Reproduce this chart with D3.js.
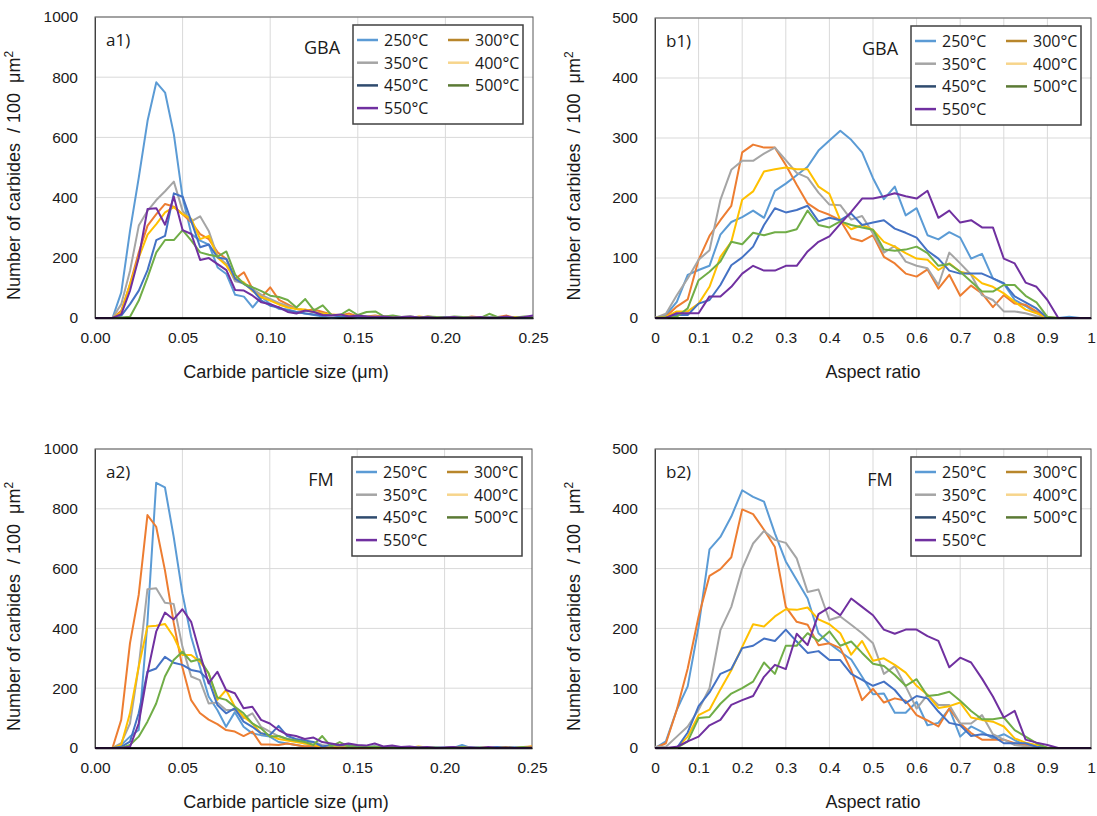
<!DOCTYPE html>
<html>
<head>
<meta charset="utf-8">
<script src="https://cdn.jsdelivr.net/npm/d3@7"></script>
<style>
  body { margin: 0; background: #fff; }
  .tick text { font-family: "Liberation Sans", Arial, sans-serif; font-size: 15.5px; fill: #1a1a1a; }
  .axtitle { font-family: "Liberation Sans", Arial, sans-serif; font-size: 18px; fill: #1a1a1a; white-space: pre; }
  .tag { font-family: "Open Sans", "Noto Sans", sans-serif; font-size: 17px; fill: #1a1a1a; }
  .legtext { font-family: "Open Sans", "Noto Sans", sans-serif; font-size: 16px; fill: #1a1a1a; }
  .gridline { stroke: #d9d9d9; stroke-width: 1; }
  .series { fill: none; stroke-width: 2; stroke-linejoin: round; }
</style>
</head>
<body>
<script>

// ---- categories / ticks
var temps = ["250°C", "300°C", "350°C", "400°C", "450°C", "500°C", "550°C"];

var sizeBins = [0.000,0.005,0.010,0.015,0.020,0.025,0.030,0.035,0.040,0.045,
                0.050,0.055,0.060,0.065,0.070,0.075,0.080,0.085,0.090,0.095,
                0.100,0.105,0.110,0.115,0.120,0.125,0.130,0.135,0.140,0.145,
                0.150,0.155,0.160,0.165,0.170,0.175,0.180,0.185,0.190,0.195,
                0.200,0.205,0.210,0.215,0.220,0.225,0.230,0.235,0.240,0.245,0.250];

var aspectBins = [0.000,0.025,0.050,0.075,0.100,0.125,0.150,0.175,0.200,0.225,
                  0.250,0.275,0.300,0.325,0.350,0.375,0.400,0.425,0.450,0.475,
                  0.500,0.525,0.550,0.575,0.600,0.625,0.650,0.675,0.700,0.725,
                  0.750,0.775,0.800,0.825,0.850,0.875,0.900,0.925,0.950,0.975,1.000];

var sizeTicks   = [0, 0.05, 0.10, 0.15, 0.20, 0.25];
var aspectTicks = [0, 0.1, 0.2, 0.3, 0.4, 0.5, 0.6, 0.7, 0.8, 0.9, 1];
var countTicks1000 = [0, 200, 400, 600, 800, 1000];
var countTicks500  = [0, 100, 200, 300, 400, 500];

// ---- a1) GBA, particle size
var a1_250 = [0,0,0,85,290,467,655,783,749,611,400,279,257,244,168,146,77,71,35,71,46,30,28,20,15,10,5,0,3,5,0,2,0,3,0,0,2,0,0,3,0,0,2,0,0,0,3,0,0,2,0];
var a1_300 = [0,0,0,24,113,218,307,345,379,370,345,318,279,262,218,196,130,152,96,69,102,60,45,30,25,28,20,12,8,15,5,5,8,3,5,2,3,0,5,2,0,3,0,5,2,0,3,8,0,2,3];
var a1_350 = [0,0,0,46,157,307,356,392,421,453,356,321,338,288,204,179,122,115,96,77,63,50,40,30,25,20,15,10,10,5,8,3,5,2,3,0,2,3,0,2,0,3,0,2,0,3,0,2,0,0,2];
var a1_400 = [0,0,0,19,113,201,277,312,351,368,345,329,262,273,201,174,130,118,89,69,58,45,35,30,28,20,15,12,10,8,5,5,3,5,2,3,0,5,2,0,3,0,2,0,3,0,2,0,3,0,2];
var a1_450 = [0,0,0,8,46,91,159,259,273,414,403,321,235,244,201,196,130,113,93,58,41,35,25,20,15,12,8,10,5,5,3,5,2,3,0,2,3,0,2,0,3,0,2,0,0,2,0,3,0,0,2];
var a1_500 = [0,0,0,2,4,58,135,218,259,259,292,257,218,210,204,221,144,113,102,89,74,70,60,35,63,25,42,10,10,28,10,20,22,5,8,3,5,2,5,3,2,5,3,2,0,14,3,0,2,5,3];
var a1_550 = [0,0,0,13,91,201,362,365,310,403,292,279,193,199,179,159,93,91,74,52,46,35,20,15,25,20,10,8,12,5,8,5,3,5,2,3,5,2,3,0,2,3,0,2,3,0,2,5,0,3,8];

// ---- b1) GBA, aspect ratio
var b1_250 = [0,5,27,72,80,87,139,160,168,179,167,212,224,238,252,279,296,312,297,276,233,198,219,171,183,138,131,143,134,99,107,66,57,30,20,8,0,0,2,0,0];
var b1_300 = [0,2,19,31,97,137,163,187,276,289,284,284,255,222,191,179,172,163,133,128,138,102,91,74,69,81,49,72,37,54,41,18,38,24,22,11,1,0,0,0,0];
var b1_350 = [0,7,38,66,97,113,197,247,262,262,274,284,263,242,234,209,189,188,164,170,141,109,120,94,87,83,55,109,91,72,38,30,11,11,8,3,0,0,0,0,0];
var b1_400 = [0,2,11,11,24,52,102,127,197,211,244,248,251,248,248,219,207,163,148,155,147,127,119,108,99,97,80,91,77,73,58,52,41,27,14,8,0,0,0,0,0];
var b1_450 = [0,1,5,5,24,30,55,88,101,119,155,183,176,180,187,161,167,163,174,155,159,163,149,142,134,112,99,79,74,74,74,66,58,36,26,16,0,0,0,0,0];
var b1_500 = [0,1,2,16,63,77,94,127,123,142,138,143,143,148,179,155,151,161,155,151,147,114,112,114,119,108,87,90,77,61,44,44,55,55,37,26,2,0,0,0,0];
var b1_550 = [0,0,8,8,8,36,36,52,74,87,79,79,87,87,111,127,136,157,177,199,199,203,208,203,199,212,167,179,159,163,151,151,99,91,59,52,30,0,0,0,0];

// ---- a2) FM, particle size
var a2_250 = [0,0,0,10,38,60,420,887,872,707,517,372,272,172,127,71,120,71,49,43,38,20,15,10,5,5,3,0,5,0,3,0,2,0,3,0,2,0,3,0,2,0,10,0,2,0,3,0,2,0,0];
var a2_300 = [0,0,0,94,350,512,779,740,595,420,270,160,117,95,80,60,55,40,55,12,12,10,15,10,5,8,0,2,0,3,0,0,2,0,0,3,0,0,2,0,0,0,3,0,0,2,0,0,0,3,5];
var a2_350 = [0,0,0,16,82,272,531,534,486,482,339,239,227,149,152,127,127,99,116,71,55,40,30,25,15,20,10,5,10,5,3,5,2,3,0,2,3,0,2,0,0,3,0,2,0,0,2,0,0,2,0];
var a2_400 = [0,0,0,10,116,272,406,409,415,372,311,311,289,250,161,194,138,105,82,49,43,30,25,20,15,10,5,8,5,10,3,5,2,0,3,2,0,5,2,0,0,3,2,0,0,2,0,3,0,2,5];
var a2_450 = [0,0,0,4,21,116,255,266,305,285,278,261,255,227,144,116,133,88,71,49,43,74,40,30,25,20,5,10,8,10,5,3,5,2,3,0,2,3,0,2,0,3,0,2,0,0,3,0,2,0,0];
var a2_500 = [0,0,0,0,10,38,88,149,239,294,322,289,297,250,169,161,138,116,82,66,38,40,30,25,20,10,40,5,20,5,8,3,5,2,3,0,2,3,0,2,0,0,3,0,2,0,0,2,0,3,0];
var a2_550 = [0,0,0,0,4,82,250,389,453,430,464,422,317,216,255,194,183,133,138,94,82,60,45,40,30,35,20,15,10,15,10,8,15,5,8,3,5,2,3,0,2,3,0,2,0,3,0,2,0,0,2];

// ---- b2) FM, aspect ratio
var b2_250 = [0,11,64,103,203,332,353,387,431,420,412,359,312,281,250,192,175,161,148,119,90,91,59,59,77,38,42,66,19,36,27,16,23,13,5,2,0,0,0,0,0];
var b2_300 = [0,8,64,133,220,288,299,319,399,391,365,336,236,211,206,172,175,167,130,80,99,76,83,79,55,46,36,66,41,25,14,14,14,8,5,2,0,0,0,0,0];
var b2_350 = [2,2,19,36,64,100,197,236,300,342,363,348,343,317,261,265,214,220,206,192,175,124,137,103,66,89,72,72,41,41,55,23,14,5,3,2,0,0,0,0,0];
var b2_400 = [0,0,0,19,55,64,98,130,169,207,203,220,232,231,235,215,207,192,156,179,146,150,139,126,104,89,67,70,76,51,47,44,36,16,9,5,0,0,0,0,0];
var b2_450 = [0,0,0,26,70,93,124,132,167,171,183,179,198,178,159,162,147,147,124,114,104,111,97,75,87,83,61,42,38,20,23,20,8,8,8,2,0,0,0,0,0];
var b2_500 = [0,0,0,11,50,52,74,91,100,111,143,124,171,171,192,179,195,171,178,159,141,137,122,104,115,87,89,94,79,62,48,48,51,30,19,8,0,0,0,0,0];
var b2_550 = [0,0,2,11,19,38,47,72,80,87,119,139,132,191,172,224,235,222,250,236,222,198,191,198,198,187,179,135,151,143,116,86,51,62,14,9,5,0,0,0,0];

// line colours in the plot and (darker) colours shown in the legend
var lineColors   = ["#5b9bd5", "#ed7d31", "#a5a5a5", "#ffc000", "#4472c4", "#70ad47", "#7030a0"];
var legendColors = ["#5b9bd5", "#b8862b", "#a5a5a5", "#f7d58c", "#2f4b6e", "#5b7a35", "#7030a0"];

var svg = d3.select("body").append("svg")
    .attr("width", 1097)
    .attr("height", 816);

function drawPanel(p) {
    var g = svg.append("g").attr("transform", "translate(" + p.left + "," + p.top + ")");

    var x = d3.scaleLinear().domain(p.xDomain).range([0, p.width]);
    var y = d3.scaleLinear().domain(p.yDomain).range([p.height, 0]);

    // grid
    g.selectAll(".gx").data(p.xTicks.slice(1, -1)).enter().append("line")
        .attr("class", "gridline")
        .attr("x1", function(d) { return x(d); })
        .attr("x2", function(d) { return x(d); })
        .attr("y1", 0).attr("y2", p.height);
    g.selectAll(".gy").data(p.yTicks.slice(1)).enter().append("line")
        .attr("class", "gridline")
        .attr("x1", 0).attr("x2", p.width)
        .attr("y1", function(d) { return y(d); })
        .attr("y2", function(d) { return y(d); });

    // plot box
    g.append("rect")
        .attr("x", 0).attr("y", 0)
        .attr("width", p.width).attr("height", p.height)
        .attr("fill", "none")
        .attr("stroke", "#595959")
        .attr("stroke-width", 1);

    // axes
    var xAxis = g.append("g")
        .attr("transform", "translate(0," + p.height + ")")
        .call(d3.axisBottom(x).tickValues(p.xTicks).tickFormat(p.xFormat).tickSize(0).tickPadding(14));
    xAxis.select(".domain").attr("stroke", "#000").attr("stroke-width", 1.5);

    var yAxis = g.append("g")
        .call(d3.axisLeft(y).tickValues(p.yTicks).tickFormat(d3.format("d")).tickSize(0).tickPadding(17));
    yAxis.select(".domain").attr("stroke", "#404040");

    // series
    var line = d3.line()
        .x(function(d, i) { return x(p.xs[i]); })
        .y(function(d) { return y(d); });
    p.series.forEach(function(s, k) {
        g.append("path")
            .datum(s)
            .attr("class", "series")
            .attr("stroke", lineColors[k])
            .attr("d", line);
    });
    // redraw bottom axis line on top
    g.append("line")
        .attr("x1", 0).attr("x2", p.width)
        .attr("y1", p.height).attr("y2", p.height)
        .attr("stroke", "#000").attr("stroke-width", 1.5);

    // axis titles
    svg.append("text")
        .attr("class", "axtitle")
        .attr("x", p.xTitleX)
        .attr("y", p.top + p.height + 60)
        .attr("text-anchor", "middle")
        .text(p.xTitle);

    var yt = svg.append("text")
        .attr("class", "axtitle")
        .attr("text-anchor", "middle")
        .attr("transform", "translate(" + (p.left - 75) + "," + (p.top + p.height / 2 + 8) + ") rotate(-90)");
    yt.append("tspan").text("Number of carbides  / 100  μm");
    yt.append("tspan").attr("dy", -7).style("font-size", "12px").text("2");

    // panel tag and region label
    g.append("text").attr("class", "tag")
        .attr("x", 11).attr("y", 29)
        .text(p.tag);
    g.append("text").attr("class", "tag")
        .attr("x", p.width - 211).attr("y", 37)
        .attr("text-anchor", "middle")
        .style("font-size", "18px")
        .text(p.region);

    // legend
    var lg = g.append("g").attr("transform", "translate(" + (p.width - 180) + ",8)");
    lg.append("rect")
        .attr("width", 170).attr("height", 99)
        .attr("fill", "#fff")
        .attr("stroke", "#404040")
        .attr("stroke-width", 1.5);
    temps.forEach(function(t, k) {
        var col = k % 2, row = Math.floor(k / 2);
        var ly = 15 + row * 22.7;
        var lx = col === 0 ? 4 : 95;
        lg.append("line")
            .attr("x1", lx).attr("x2", lx + 21)
            .attr("y1", ly).attr("y2", ly)
            .attr("stroke", legendColors[k])
            .attr("stroke-width", 2.5);
        lg.append("text").attr("class", "legtext")
            .attr("x", lx + 27).attr("y", ly + 6)
            .text(t);
    });
}

var fmt2 = d3.format(".2f");
var fmtAspect = function(d) { return d === 0 ? "0" : d === 1 ? "1" : d3.format(".1f")(d); };

drawPanel({
    left: 95, top: 17, width: 438, height: 301,
    xDomain: [0, 0.25], yDomain: [0, 1000],
    xTicks: sizeTicks, yTicks: countTicks1000, xFormat: fmt2,
    xs: sizeBins,
    series: [a1_250, a1_300, a1_350, a1_400, a1_450, a1_500, a1_550],
    xTitle: "Carbide particle size (μm)", xTitleX: 286, tag: "a1)", region: "GBA"
});
drawPanel({
    left: 655, top: 18, width: 436, height: 300,
    xDomain: [0, 1], yDomain: [0, 500],
    xTicks: aspectTicks, yTicks: countTicks500, xFormat: fmtAspect,
    xs: aspectBins,
    series: [b1_250, b1_300, b1_350, b1_400, b1_450, b1_500, b1_550],
    xTitle: "Aspect ratio", xTitleX: 873, tag: "b1)", region: "GBA"
});
drawPanel({
    left: 95, top: 449, width: 437, height: 299,
    xDomain: [0, 0.25], yDomain: [0, 1000],
    xTicks: sizeTicks, yTicks: countTicks1000, xFormat: fmt2,
    xs: sizeBins,
    series: [a2_250, a2_300, a2_350, a2_400, a2_450, a2_500, a2_550],
    xTitle: "Carbide particle size (μm)", xTitleX: 286, tag: "a2)", region: "FM"
});
drawPanel({
    left: 655, top: 449, width: 436, height: 299,
    xDomain: [0, 1], yDomain: [0, 500],
    xTicks: aspectTicks, yTicks: countTicks500, xFormat: fmtAspect,
    xs: aspectBins,
    series: [b2_250, b2_300, b2_350, b2_400, b2_450, b2_500, b2_550],
    xTitle: "Aspect ratio", xTitleX: 873, tag: "b2)", region: "FM"
});

</script>
</body>
</html>
